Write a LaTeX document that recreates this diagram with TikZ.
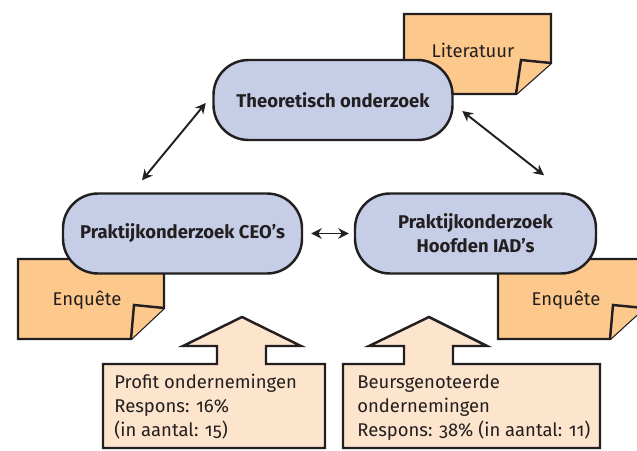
\documentclass[tikz,border=0pt]{standalone}
\usepackage{fontspec}
\setmainfont{Fira Sans}[Numbers=OldStyle]
\usetikzlibrary{arrows.meta}
\definecolor{pillblue}{RGB}{197,206,230}
\definecolor{noteorange}{RGB}{253,200,140}
\definecolor{calloutpeach}{RGB}{253,228,204}
\definecolor{edgegray}{RGB}{35,31,32}
\tikzset{
  pill/.style={draw=edgegray,line width=1.4pt,fill=pillblue,rounded corners=0.7cm,
    minimum width=4.78cm,minimum height=1.6cm,align=center,text=edgegray,
    font=\fontsize{10.5}{13.7}\selectfont\bfseries},
  note/.style={draw=edgegray,line width=1.4pt,fill=noteorange,line join=miter},
  notetext/.style={text=edgegray,font=\fontsize{10.5}{13.7}\selectfont},
  callout/.style={draw=edgegray,line width=1.4pt,fill=calloutpeach},
  callouttext/.style={anchor=north west,align=left,inner sep=0pt,text=edgegray,
    font=\fontsize{10.5}{13.7}\selectfont},
  link/.style={{Stealth[length=6pt,width=6pt,inset=2pt]}-{Stealth[length=6pt,width=6pt,inset=2pt]},
    line width=1.1pt,draw=edgegray}
}
\begin{document}
\begin{tikzpicture}
\clip(0,0)rectangle(12.74,9);
%notes
\draw[note](8.08,8.72)--(11.02,8.72)--(11.02,7.74)--(10.32,7.12)--(8.08,7.12)--cycle;
\draw[note](10.32,7.12)--(10.42,7.8)--(11.02,7.74);
\node[notetext](lit)at(9.46,8.0){Literatuur};
\draw[note](0.36,3.82)--(3.28,3.82)--(3.28,2.84)--(2.62,2.22)--(0.36,2.22)--cycle;
\draw[note](2.62,2.22)--(2.68,2.9)--(3.28,2.84);
\node[notetext](enqleft)at(1.74,3.0){Enquête};
\draw[note](9.96,3.82)--(12.88,3.82)--(12.88,2.84)--(12.2,2.22)--(9.96,2.22)--cycle;
\draw[note](12.2,2.22)--(12.26,2.9)--(12.88,2.84);
\node[notetext](enqright)at(11.32,3.0){Enquête};
%research blocks
\node[pill](theory)at(6.66,7.0){Theoretisch onderzoek};
\node[pill](ceo)at(3.65,4.33){Praktijkonderzoek CEO’s};
\node[pill,minimum width=4.82cm](iad)at(9.51,4.33){Praktijkonderzoek\\Hoofden IAD’s};
%links
\draw[link]([shift={(-0.81,0.24)}]ceo.north)--([shift={(-0.13,-0.06)}]theory.west);
\draw[link]([shift={(0.17,-0.22)}]theory.east)--([shift={(1.37,0.34)}]iad.north);
\draw[link]([xshift=0.16cm]ceo.east)--([xshift=-0.1cm]iad.west);
%response callouts
\draw[callout](2.06,0.04)--(2.06,1.72)--(4.34,1.72)--(4.34,2.08)--(3.66,2.08)--(4.84,2.66)
  --(6.02,2.08)--(5.32,2.08)--(5.32,1.72)--(6.5,1.72)--(6.5,0.04)--cycle;
\node[callouttext](profit)at(2.28,1.52){Profit ondernemingen\\Respons: 16\%\\(in aantal: 15)};
\draw[callout](6.86,0.04)--(6.86,1.72)--(8.08,1.72)--(8.08,2.08)--(7.38,2.08)--(8.58,2.66)
  --(9.74,2.08)--(9.06,2.08)--(9.06,1.72)--(12.0,1.72)--(12.0,0.04)--cycle;
\node[callouttext](listed)at(7.14,1.52){Beursgenoteerde\\ondernemingen\\Respons: 38\% (in aantal: 11)};
\end{tikzpicture}
\end{document}
